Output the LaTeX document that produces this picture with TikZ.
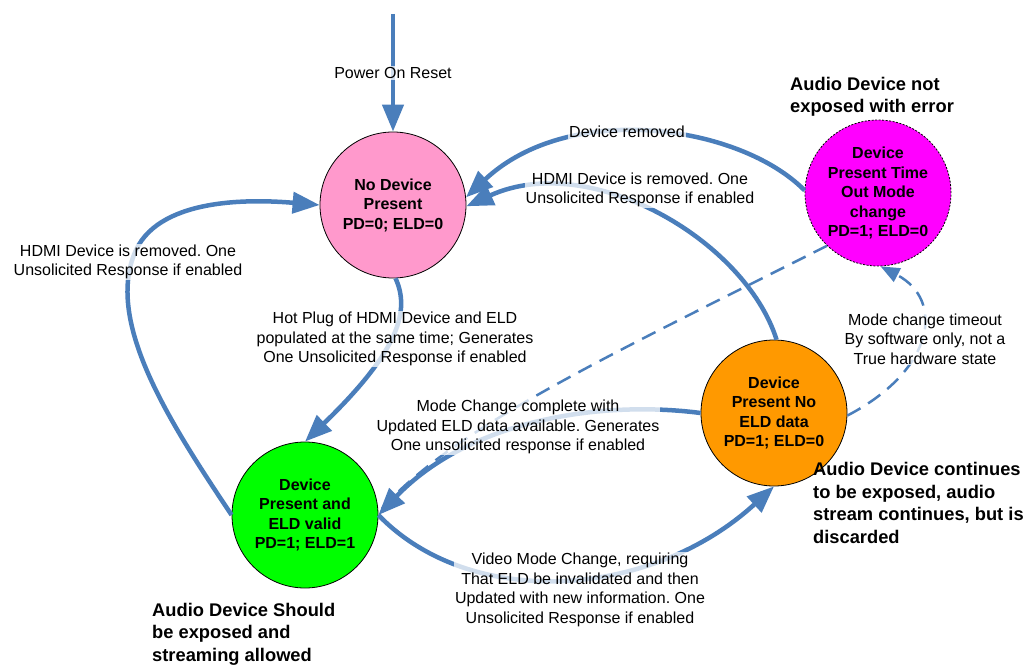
\documentclass[tikz,border=0pt]{standalone}
\usepackage{fontspec}
\setmainfont{Liberation Sans}
\usetikzlibrary{arrows.meta}
\definecolor{lineblue}{RGB}{74,126,187}
\definecolor{pinkst}{HTML}{FF99CC}
\definecolor{magst}{HTML}{FF00FF}
\definecolor{orangest}{HTML}{FF9900}
\definecolor{greenst}{HTML}{00FF00}
\tikzset{
  state/.style={circle, draw=black, line width=0.8pt, minimum size=146pt, inner sep=0pt, align=center,
    font=\fontsize{16}{19.5}\selectfont\bfseries},
  conn/.style={draw=lineblue, line width=4.5pt, -{Triangle[length=27pt,width=21pt]}},
  dconn/.style={draw=lineblue, line width=2.5pt, dash pattern=on 15pt off 9pt},
  lbl/.style={align=center, fill=white, fill opacity=0.75, text opacity=1, inner sep=1pt,
    font=\fontsize{16}{19.5}\selectfont},
  note/.style={align=left, anchor=west, inner sep=0pt, font=\fontsize{18.3}{22.5}\selectfont\bfseries}
}
\frenchspacing
\begin{document}
\frenchspacing
\begin{tikzpicture}[x=1pt,y=-1pt]
\useasboundingbox (0,0) rectangle (1029,666);
% states
\node[state, fill=pinkst] (nodev) at (393,205) {No Device\\Present\\PD=0; ELD=0};
\node[state, fill=magst, dashed, dash pattern=on 2pt off 1.5pt] (tout) at (878,193) {Device\\Present Time\\Out Mode\\change\\PD=1; ELD=0};
\node[state, fill=orangest] (noeld) at (774,413) {Device\\Present No\\ELD data\\PD=1; ELD=0};
\node[state, fill=greenst] (valid) at (305,515) {Device\\Present and\\ELD valid\\PD=1; ELD=1};
\coordinate (por) at (393,14);
% connectors
\draw[conn] (por) -- (nodev.90);
\draw[conn] (tout.178) .. controls (740,125) and (570,100) .. (nodev.6);
\draw[conn] (noeld.88) .. controls (745,240) and (590,150) .. (nodev.-1);
\draw[conn] (valid.180) .. controls (168,420) and (104,320) .. (136,250) .. controls (162,195) and (260,200) .. (nodev.180);
\draw[conn] (nodev.272) .. controls (410,310) and (400,350) .. (valid.90);
\draw[dconn] (tout.226) .. controls (600,360) and (450,430) .. (valid.2);
\draw[conn] (noeld.180) .. controls (600,400) and (470,420) .. (valid.0);
\draw[conn] (valid.0) .. controls (470,610) and (650,600) .. (noeld.270);
\draw[dconn, -{Triangle[length=19pt,width=15pt]}] (noeld.-2) .. controls (935,370) and (945,300) .. (tout.272);
% labels
\node[lbl] (lpor) at (393,73) {Power On Reset};
\node[lbl] (ldr) at (627,132) {Device removed};
\node[lbl] (lhdmi1) at (640,190) {HDMI Device is removed. One\\Unsolicited Response if enabled};
\node[lbl] (lhdmi2) at (128,262) {HDMI Device is removed. One\\Unsolicited Response if enabled};
\node[lbl] (lhot) at (395,339) {Hot Plug of HDMI Device and ELD\\populated at the same time; Generates\\One Unsolicited Response if enabled};
\node[lbl] (lmode) at (518,427) {Mode Change complete with\\Updated ELD data available. Generates\\One unsolicited response if enabled};
\node[lbl] (lvideo) at (580,590) {Video Mode Change, requiring\\That ELD be invalidated and then\\Updated with new information. One\\Unsolicited Response if enabled};
\node[lbl] (ltime) at (925,339) {Mode change timeout\\By software only, not a\\True hardware state};
% notes
\node[note] (n1) at (790,97) {Audio Device not\\exposed with error};
\node[note] (n2) at (813,503) {Audio Device continues\\to be exposed, audio\\stream continues, but is\\discarded};
\node[note] (n3) at (152,634) {Audio Device Should\\be exposed and\\streaming allowed};
\end{tikzpicture}
\end{document}
